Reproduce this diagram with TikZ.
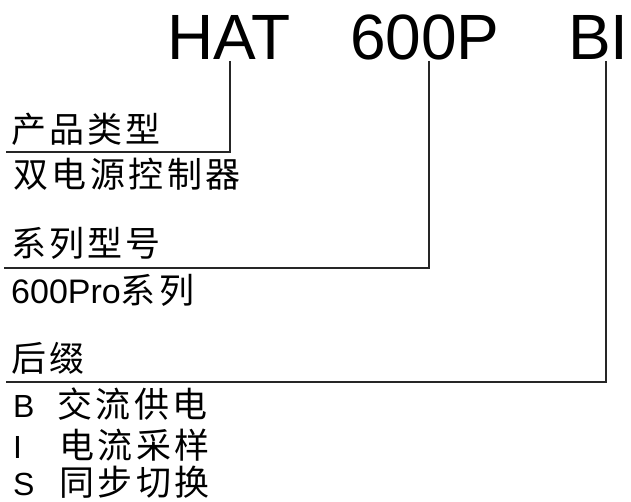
\documentclass[tikz,border=0pt]{standalone}
\usepackage{fontspec}
\setmainfont{Liberation Sans}
\newfontfamily\cjkhead[LetterSpace=8.5]{Noto Sans CJK SC}
\newfontfamily\cjkdesc[LetterSpace=10]{Noto Sans CJK SC}
\usetikzlibrary{positioning}

\begin{document}
\begin{tikzpicture}[x=1pt, y=-1pt,
        code/.style={inner sep=0pt, anchor=base west, font=\fontsize{64}{64}\selectfont},
        field/.style={inner sep=0pt, anchor=base west, font=\fontsize{35}{35}\selectfont\cjkhead},
        info/.style={inner sep=0pt, anchor=base west, font=\fontsize{32}{32}\selectfont},
        lead/.style={draw=black!85, line width=1.6pt}]

    \useasboundingbox (0,0) rectangle (631,502);

    % model code
    \node[code] (hat) at (167,60) {HAT};
    \node[code] (series) at (350,60) {600P};
    \node[code] (suffix) at (568,60) {BI};

    % product type
    \node[field] (typeHead) at (11,143) {产品类型};
    \node[info] (typeDesc) at (13,188) {\fontsize{35}{35}\selectfont\cjkdesc 双电源控制器};

    % series
    \node[field] (seriesHead) at (11,257) {系列型号};
    \node[info] (seriesDesc) at (11,303) {\fontsize{34}{34}\selectfont 600Pro{\fontsize{35}{35}\selectfont\cjkdesc 系列}};

    % suffix
    \node[field] (suffixHead) at (11,371) {后缀};
    \node[info] (optB) at (13,417) {\makebox[44pt][l]{B}\fontsize{35}{35}\selectfont\cjkdesc 交流供电};
    \node[info] (optI) at (13,458) {\makebox[46pt][l]{I}\fontsize{35}{35}\selectfont\cjkdesc 电流采样};
    \node[info] (optS) at (13,495) {\makebox[46pt][l]{S}\fontsize{35}{35}\selectfont\cjkdesc 同步切换};

    \coordinate (hatTap) at (230,61);
    \coordinate (seriesTap) at (429,61);
    \coordinate (suffixTap) at (606,61);
    \coordinate (typeEnd) at (6,152);
    \coordinate (seriesEnd) at (4,268);
    \coordinate (suffixEnd) at (6,382);

    \draw[lead] (hatTap) |- (typeEnd);
    \draw[lead] (seriesTap) |- (seriesEnd);
    \draw[lead] (suffixTap) |- (suffixEnd);

\end{tikzpicture}
\end{document}
